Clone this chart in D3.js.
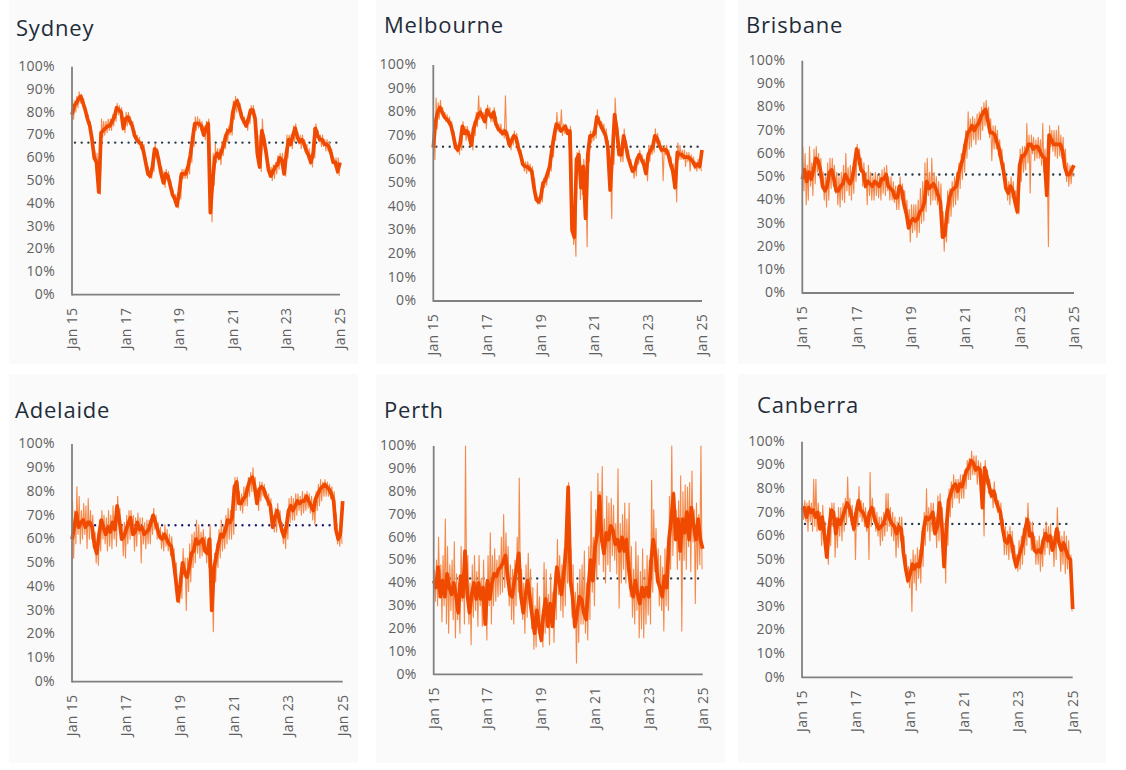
<!DOCTYPE html>
<html>
<head>
<meta charset="utf-8">
<script src="https://cdn.jsdelivr.net/npm/d3@7"></script>
<style>
  html, body { margin: 0; padding: 0; background: #ffffff; }
  svg { display: block; }
  .title { font-family: "Open Sans", "Noto Sans", sans-serif; font-size: 22px; fill: #1f2d3a; letter-spacing: 0.8px; }
  .tick-label { font-family: "Open Sans", "Noto Sans", sans-serif; font-size: 14px; fill: #606060; letter-spacing: 0.3px; }
</style>
</head>
<body>
<svg id="chart" width="1126" height="770"></svg>
<script>
// ---------------- DATA (percent, monthly from Jan 2015 to Jan 2025) ----------------
const cities = ["Sydney", "Melbourne", "Brisbane", "Adelaide", "Perth", "Canberra"];
const xTickLabels = ["Jan 15", "Jan 17", "Jan 19", "Jan 21", "Jan 23", "Jan 25"];
const yTickLabels = ["0%","10%","20%","30%","40%","50%","60%","70%","80%","90%","100%"];
const averages = [66.7, 65.4, 51, 65.8, 42, 65.1];

// Smoothed (thick) series, one value per month
const sydneyMain = [79,83,84,86,87,84,81,77,74,68,60,58,45,71,72,73,74,74,76,78,82,81,80,73,77,78,76,74,70,68,67,66,63,58,53,52,56,64,63,58,53,49,53,52,48,44,42,39,45,53,53,53,56,61,68,75,75,75,74,70,73,75,36,50,60,62,60,63,66,70,72,72,80,84,85,82,78,76,74,77,81,81,77,62,56,72,68,62,55,52,54,56,57,60,59,53,62,68,66,70,73,69,67,68,66,63,61,58,62,73,70,68,68,66,66,65,62,58,58,54,58];
const melbourneMain = [65,76,80,82,80,78,77,76,74,70,65,64,67,74,71,72,70,66,73,76,79,80,78,76,81,79,78,80,75,73,72,71,72,70,66,68,70,69,65,62,58,57,57,56,55,48,43,42,44,50,51,54,57,64,70,75,74,72,73,74,71,72,30,27,60,62,48,57,35,62,70,70,71,78,76,74,72,70,65,47,62,79,72,62,62,70,66,61,58,55,56,60,62,60,58,54,62,64,65,70,69,66,64,64,64,62,58,55,48,63,62,62,61,61,61,60,59,57,58,57,64];
const brisbaneMain = [49,53,48,52,49,53,58,57,53,46,44,46,52,53,49,44,44,46,47,51,49,47,49,55,62,58,53,52,46,48,47,46,48,47,46,49,49,51,46,45,44,41,41,46,44,38,34,28,31,32,31,32,35,36,39,48,45,46,47,45,42,39,24,25,35,41,44,45,46,51,55,58,64,69,70,72,70,72,73,76,78,79,74,69,69,68,65,62,57,52,45,43,46,44,39,35,55,59,59,61,64,64,62,63,63,61,59,58,42,68,66,64,64,64,64,61,54,51,51,53,55];
const adelaideMain = [60,65,71,65,67,68,65,67,67,65,57,54,62,68,65,62,65,63,67,64,74,68,60,61,64,67,69,62,63,67,64,65,62,63,64,67,70,67,64,61,60,62,60,58,57,51,43,34,41,50,46,44,48,54,55,60,58,59,60,55,54,60,30,48,53,58,62,61,64,68,67,69,82,84,75,75,77,78,82,85,86,82,75,81,82,81,78,76,74,65,69,72,68,64,61,65,72,74,72,74,76,75,76,76,78,76,74,72,77,79,81,82,83,82,81,79,76,64,60,62,76];
const perthMain = [41,38,47,34,41,34,44,38,35,40,34,27,43,34,54,35,27,35,40,33,40,33,38,22,41,33,40,44,43,46,47,49,52,43,35,34,41,47,53,34,27,35,41,33,25,18,28,21,15,27,33,21,31,21,34,47,41,35,44,54,82,41,34,21,27,34,33,27,24,38,50,41,56,62,78,59,53,62,59,65,63,57,59,54,60,54,59,47,38,34,41,35,31,38,34,38,34,50,59,52,41,38,34,43,38,59,68,79,59,68,54,68,62,71,59,73,65,59,68,59,55];
const canberraMain = [71,72,68,72,70,71,68,70,63,68,60,51,63,71,70,61,67,65,68,71,74,72,68,63,70,75,71,70,68,64,70,72,68,65,63,64,65,68,71,67,65,64,61,64,63,53,46,41,44,48,46,48,47,53,63,68,67,68,70,61,64,74,65,47,63,75,78,81,82,79,82,81,85,88,89,92,91,88,89,88,72,89,85,81,77,79,75,72,70,63,58,57,60,57,51,47,51,54,57,63,67,60,61,54,53,54,53,58,61,58,60,54,57,63,57,54,57,54,51,50,29];

// Daily (thin) series: monthly high and low readings of the raw line
const sydneyHigh = [86,85,87,89,88,86,82,79,76,70,63,62,60,77,76,76,77,77,79,81,84,83,82,78,80,80,78,76,72,70,69,67,66,60,56,55,62,66,64,60,56,54,55,54,50,46,44,42,52,55,55,56,60,65,73,78,78,77,76,74,76,77,55,62,66,64,64,67,70,73,74,75,85,87,86,84,80,78,77,80,83,83,79,70,70,77,70,64,57,56,57,58,61,62,62,60,70,70,70,74,75,71,70,70,68,66,64,62,73,75,72,70,70,68,68,67,64,60,60,60];
const sydneyLow = [77,80,82,84,84,81,78,74,70,63,55,52,44,69,70,71,72,72,74,76,79,79,72,71,74,76,74,71,68,66,64,63,60,55,51,51,54,60,60,55,50,47,50,50,46,42,40,38,42,51,51,51,53,58,65,72,73,72,70,68,71,70,32,48,58,59,57,61,64,67,70,70,77,80,81,79,75,74,72,75,79,78,73,57,54,68,64,58,52,50,51,53,55,57,55,52,60,65,64,67,70,66,64,65,63,60,57,56,60,70,67,65,65,63,63,62,59,56,53,52];
const melbourneHigh = [72,86,84,85,82,80,79,78,76,72,67,66,71,76,74,74,72,70,76,80,87,82,80,79,83,82,80,82,78,75,75,73,87,72,69,70,72,71,67,64,60,59,59,58,57,52,45,44,48,52,53,56,60,68,74,80,76,81,75,75,73,74,40,32,63,64,55,60,45,65,72,72,74,81,78,76,75,73,68,55,70,86,75,66,65,73,68,64,60,57,58,62,64,62,60,56,66,66,67,73,71,68,66,66,66,64,61,58,56,67,66,64,64,63,63,62,61,59,60,59];
const melbourneLow = [60,73,77,80,78,76,75,74,72,67,63,62,64,72,68,70,68,64,70,74,77,78,76,73,79,76,76,78,72,71,70,69,70,68,64,66,67,67,63,60,55,54,55,54,52,45,41,41,42,48,49,52,55,61,68,72,72,70,71,72,65,68,24,19,57,43,45,53,23,59,67,68,69,75,73,72,70,67,55,35,58,76,70,59,59,67,63,58,55,52,53,58,60,58,56,51,59,62,63,67,66,63,51,62,62,60,55,52,42,60,60,60,57,59,55,58,56,55,56,55];
const brisbaneHigh = [63,60,55,63,56,62,63,60,58,52,50,56,58,58,55,52,50,52,55,60,54,55,54,60,64,62,58,56,52,55,52,50,52,51,51,53,54,55,50,50,48,46,46,50,47,44,40,36,38,38,38,40,45,48,56,58,52,58,52,50,48,47,35,32,44,45,48,50,52,56,60,64,70,78,75,76,75,77,78,80,82,83,80,75,72,72,70,66,62,56,50,48,50,48,44,40,62,63,63,73,68,68,67,66,67,66,73,62,55,72,70,70,70,72,68,67,62,56,55,55];
const brisbaneLow = [44,38,40,46,42,47,52,50,45,40,37,40,45,46,43,38,37,40,39,44,42,40,43,48,55,52,46,45,38,42,40,40,42,41,40,43,42,44,40,40,39,36,36,40,38,34,28,22,26,27,24,26,30,31,35,42,38,40,40,38,36,30,18,22,30,33,37,38,40,45,49,52,58,62,63,66,64,66,66,70,72,74,67,57,62,62,59,56,51,46,40,38,41,38,34,34,48,52,53,56,43,60,57,58,58,55,52,52,20,63,61,59,58,59,58,55,48,46,47,50];
const adelaideHigh = [76,72,82,78,72,75,74,77,72,70,63,60,68,72,70,69,72,70,74,70,78,73,66,67,70,72,72,70,69,71,69,69,67,68,68,70,73,70,67,65,63,66,64,62,61,56,50,40,48,56,52,52,58,62,63,68,66,63,64,61,60,66,38,54,58,64,68,66,70,73,72,75,86,86,80,79,82,82,86,88,90,86,80,84,84,83,80,79,77,70,73,75,72,67,65,70,77,78,77,79,79,78,80,79,80,79,78,76,80,83,85,84,85,84,83,82,80,70,62,66];
const adelaideLow = [52,58,62,58,60,62,56,60,60,59,50,49,55,60,58,55,57,56,60,57,66,61,53,52,58,60,63,55,57,62,50,58,56,58,58,62,64,60,60,56,55,57,55,53,52,45,38,33,35,44,30,38,42,48,50,54,52,53,55,50,48,52,21,42,48,52,55,56,58,60,60,62,72,78,72,71,74,74,78,80,80,76,72,76,78,77,74,72,68,63,63,67,63,58,56,60,67,68,68,70,72,70,71,72,73,71,68,66,72,74,76,78,78,78,77,75,72,58,57,58];
const perthHigh = [46,50,60,48,52,68,56,48,50,58,44,40,56,46,100,52,40,48,52,45,52,42,50,40,52,62,52,55,50,52,60,70,62,56,48,46,50,60,86,46,40,48,53,46,38,30,40,34,26,49,46,35,44,36,45,59,52,48,55,62,84,55,48,36,40,46,48,54,40,56,80,60,72,88,80,91,68,78,75,77,74,66,90,66,70,75,68,75,56,46,58,52,45,55,46,52,50,85,72,64,55,52,47,55,56,78,100,80,72,76,87,80,83,82,84,89,72,75,70,100];
const perthLow = [32,30,36,23,30,22,18,28,24,16,24,18,32,22,35,22,13,25,28,21,30,21,26,15,30,22,30,32,34,35,36,38,42,30,24,22,30,36,40,24,18,25,30,20,11,12,18,14,12,18,22,13,22,14,24,35,28,25,30,40,55,25,20,5,14,22,22,18,15,24,36,30,42,48,58,45,40,48,45,52,50,44,29,40,46,40,45,34,25,22,28,16,20,16,22,26,22,36,45,40,30,28,19,30,28,46,52,64,46,50,19,50,46,56,45,58,31,46,48,46];
const canberraHigh = [74,75,74,75,74,84,84,74,70,73,66,58,72,74,74,68,72,72,74,76,85,76,73,70,74,81,75,74,72,70,87,76,72,70,68,68,70,78,78,72,70,68,66,68,68,60,52,47,50,54,52,55,54,62,70,80,72,74,74,68,77,78,72,60,70,80,83,86,84,84,86,86,88,92,93,96,94,94,92,91,80,92,88,84,80,83,78,75,74,67,64,62,64,62,56,52,58,60,63,68,74,66,66,60,58,60,58,63,66,64,65,60,62,72,62,60,62,60,58,52];
const canberraLow = [67,66,62,66,62,64,62,64,56,62,52,48,56,64,51,55,60,58,62,65,68,66,62,50,64,68,66,64,62,50,64,66,62,60,56,58,60,62,64,60,58,51,55,58,57,45,40,38,28,40,37,42,40,47,56,62,58,62,64,55,58,66,58,40,56,68,72,76,76,74,76,76,80,84,84,86,86,82,84,82,60,82,78,76,72,74,70,67,64,52,52,50,53,50,46,45,46,48,52,56,62,54,55,48,48,45,47,52,55,52,55,47,50,56,45,48,44,46,45,28];

const mainSeries = [sydneyMain, melbourneMain, brisbaneMain, adelaideMain, perthMain, canberraMain];
const highSeries = [sydneyHigh, melbourneHigh, brisbaneHigh, adelaideHigh, perthHigh, canberraHigh];
const lowSeries  = [sydneyLow, melbourneLow, brisbaneLow, adelaideLow, perthLow, canberraLow];

// ---------------- LAYOUT ----------------
const layout = [
  { box: [9, 0, 349, 364],    title: [16, 36],  plot: { l: 72,    t: 66.7, b: 294.7, r: 340 } },
  { box: [376, 0, 349, 364],  title: [384, 33], plot: { l: 433.3, t: 65,   b: 301,   r: 702 } },
  { box: [738, 0, 368, 364],  title: [746, 33], plot: { l: 802.3, t: 60.7, b: 293,   r: 1074 } },
  { box: [9, 374, 349, 389],  title: [15, 418], plot: { l: 72,    t: 444,  b: 681.7, r: 342.7 } },
  { box: [376, 374, 349, 389],title: [384, 418],plot: { l: 433.7, t: 446,  b: 674.3, r: 702.7 } },
  { box: [738, 374, 368, 389],title: [757, 413],plot: { l: 802,   t: 441.7,b: 677.3, r: 1072.7 } }
];
const avgColors = ["#2b3946", "#2b3946", "#2b3946", "#1d1d6b", "#2b3946", "#2b3946"];

const thickColor = "#f04a00";
const thinColor = "#f5894a";

const svg = d3.select("#chart");
const parse = d3.timeParse("%b %y");

cities.forEach((city, ci) => {
  const L = layout[ci];
  const g = svg.append("g");
  g.append("rect").attr("x", L.box[0]).attr("y", L.box[1]).attr("width", L.box[2]).attr("height", L.box[3]).attr("fill", "#fafafa");
  g.append("text").attr("class", "title").attr("x", L.title[0]).attr("y", L.title[1]).text(city);

  const p = L.plot;
  const x = d3.scaleTime().domain([new Date(2015, 0, 1), new Date(2025, 0, 1)]).range([p.l, p.r]);
  const y = d3.scaleLinear().domain([0, 100]).range([p.b, p.t]);

  // y tick labels
  yTickLabels.forEach((lab, i) => {
    g.append("text").attr("class", "tick-label")
      .attr("x", p.l - 17).attr("y", y(i * 10)).attr("dy", "0.3em")
      .attr("text-anchor", "end").text(lab);
  });
  // x tick labels (rotated)
  xTickLabels.forEach(lab => {
    const d = parse(lab);
    g.append("text").attr("class", "tick-label")
      .attr("transform", `translate(${x(d)},${p.b + 13}) rotate(-90)`)
      .attr("dy", "0.35em").attr("text-anchor", "end").text(lab);
  });

  // average dotted line
  g.append("line")
    .attr("x1", x(new Date(2015, 0, 1)) + 3).attr("x2", x(new Date(2025, 0, 1)))
    .attr("y1", y(averages[ci])).attr("y2", y(averages[ci]))
    .attr("stroke", avgColors[ci]).attr("stroke-width", 2.4)
    .attr("stroke-linecap", "round").attr("stroke-dasharray", "0 6.7");

  // thin raw line
  const thinPts = [];
  highSeries[ci].forEach((v, i) => {
    thinPts.push({ d: new Date(2015, i, 8), v: v });
    thinPts.push({ d: new Date(2015, i, 23), v: lowSeries[ci][i] });
  });
  const line = d3.line().x(d => x(d.d)).y(d => y(d.v));
  g.append("path").datum(thinPts)
    .attr("fill", "none").attr("stroke", thinColor).attr("stroke-width", 1.1)
    .attr("stroke-linejoin", "round").attr("d", line);

  // thick smoothed line
  const mainPts = mainSeries[ci].map((v, i) => ({ d: new Date(2015, i, 1), v: v }));
  g.append("path").datum(mainPts)
    .attr("fill", "none").attr("stroke", thickColor).attr("stroke-width", 3.7)
    .attr("stroke-linejoin", "round").attr("d", line);

  // axes
  g.append("line").attr("x1", p.l).attr("x2", p.l).attr("y1", p.t).attr("y2", p.b + 0.8)
    .attr("stroke", "#808080").attr("stroke-width", 1.8);
  g.append("line").attr("x1", p.l).attr("x2", p.r).attr("y1", p.b).attr("y2", p.b)
    .attr("stroke", "#808080").attr("stroke-width", 1.8);
});
</script>
</body>
</html>
